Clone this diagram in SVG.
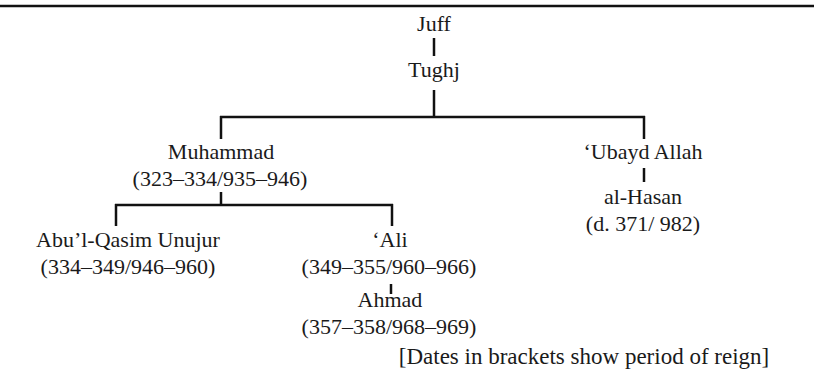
<svg xmlns="http://www.w3.org/2000/svg" width="814" height="379" viewBox="0 0 814 379">
<style>
text{font-family:"Liberation Serif","Times New Roman",serif;font-size:22px;fill:#1a1a1a;text-anchor:middle}
.c line{stroke:#111;stroke-width:2.5}
</style>
<rect width="814" height="379" fill="#fff"/>
<line x1="0" y1="6" x2="814" y2="6" stroke="#111" stroke-width="2.5"/>
<g class="c" id="connectors">
<line x1="434" y1="38" x2="434" y2="56"/>
<line x1="434" y1="90" x2="434" y2="118"/>
<line x1="220" y1="117" x2="645" y2="117"/>
<line x1="221" y1="116" x2="221" y2="139"/>
<line x1="644" y1="116" x2="644" y2="139"/>
<line x1="221" y1="192" x2="221" y2="206"/>
<line x1="115" y1="205" x2="393" y2="205"/>
<line x1="116" y1="204" x2="116" y2="226"/>
<line x1="392" y1="204" x2="392" y2="226"/>
<line x1="644" y1="168" x2="644" y2="182"/>
<line x1="391" y1="284" x2="391" y2="294"/>
</g>
<g id="juff"><text x="434" y="31">Juff</text></g>
<g id="tughj"><text x="434" y="77">Tughj</text></g>
<g id="muhammad"><text x="221" y="159">Muhammad</text><text x="220" y="186">(323–334/935–946)</text></g>
<g id="ubayd"><text x="643" y="159">‘Ubayd Allah</text></g>
<g id="hasan"><text x="643" y="204">al-Hasan</text><text x="643" y="231">(d. 371/ 982)</text></g>
<g id="abul"><text x="128" y="247">Abu’l-Qasim Unujur</text><text x="128" y="274">(334–349/946–960)</text></g>
<g id="ali"><text x="390" y="247">‘Ali</text><text x="389" y="274">(349–355/960–966)</text></g>
<g id="ahmad"><text x="390" y="307">Ahmad</text><text x="389" y="334">(357–358/968–969)</text></g>
<g id="note"><text x="584" y="364" style="font-size:23px">[Dates in brackets show period of reign]</text></g>
</svg>
